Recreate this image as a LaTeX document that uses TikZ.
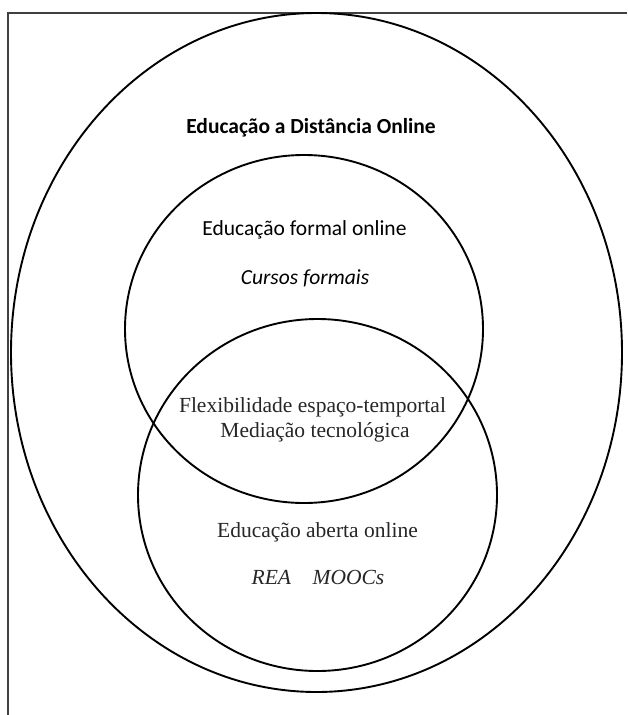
\documentclass[tikz,border=0pt]{standalone}
\usepackage{fontspec}
\setmainfont{Liberation Serif}
\newfontfamily\calfont{Carlito}
\begin{document}
\begin{tikzpicture}[x=1pt,y=-1pt,
  ring/.style={draw=black,line width=1.9pt},
  frameline/.style={draw=black!75,line width=1.3pt},
  caltext/.style={inner sep=0pt,font=\calfont\fontsize{21.5}{24}\selectfont},
  sertext/.style={inner sep=0pt,text=black!85,font=\fontsize{21.5}{24}\selectfont}]
\useasboundingbox (0,0) rectangle (627,715);
% frame
\coordinate (ftr) at (627,13);
\coordinate (ftl) at (8,13);
\coordinate (fbl) at (8,715);
\draw[frameline] (ftr) -- (ftl) -- (fbl);
% ellipses
\draw[ring] (316.5,352.5) ellipse [x radius=305.5, y radius=339.5];
\draw[ring] (304,329) ellipse [x radius=179, y radius=174];
\draw[ring] (317.5,495) ellipse [x radius=179.5, y radius=176];
% texts
\node[caltext,font=\calfont\bfseries\fontsize{21.5}{24}\selectfont] (title) at (311,128) {Educação a Distância Online};
\node[caltext] (formal) at (304.5,230) {Educação formal online};
\node[caltext,font=\calfont\itshape\fontsize{21.5}{24}\selectfont] (cursos) at (305,278) {Cursos formais};
\node[sertext] (flex) at (312.5,407) {Flexibilidade espaço-temportal};
\node[sertext] (med) at (315,432) {Mediação tecnológica};
\node[sertext] (aberta) at (317.5,532) {Educação aberta online};
\node[sertext,font=\itshape\fontsize{21.5}{24}\selectfont] (rea) at (318,577) {REA\quad MOOCs};
\end{tikzpicture}
\end{document}
